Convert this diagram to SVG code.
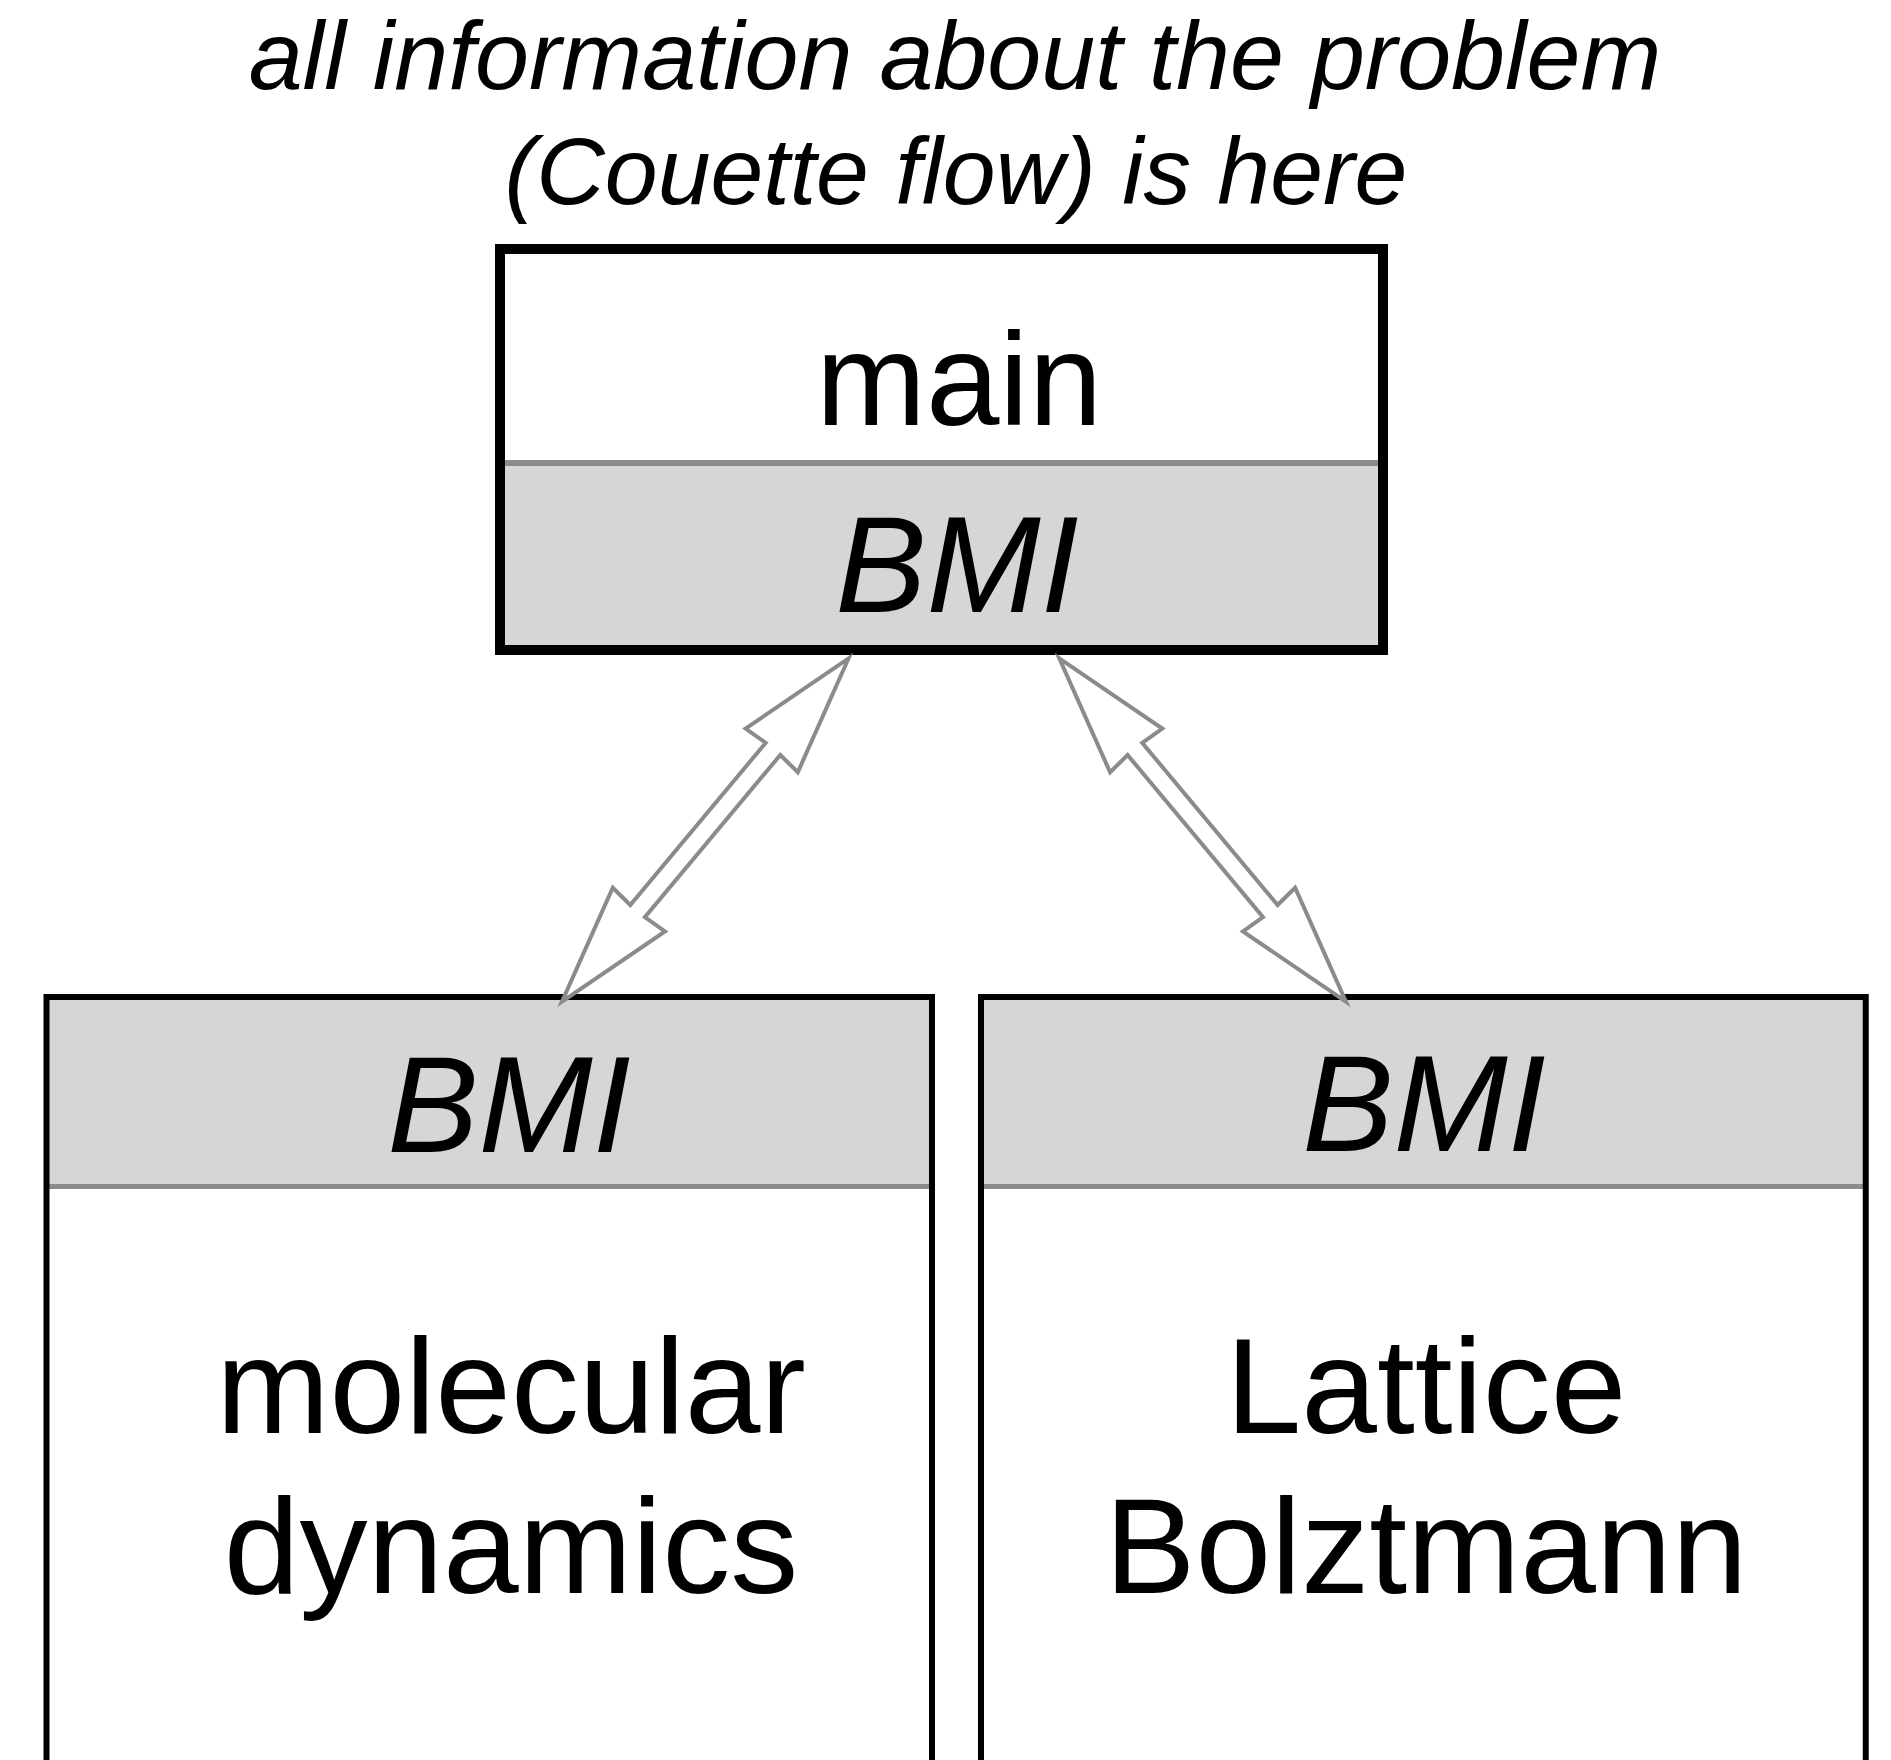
<svg xmlns="http://www.w3.org/2000/svg" xmlns:xlink="http://www.w3.org/1999/xlink" width="1891" height="1760" viewBox="0 0 1891 1760">
  <style>
    text { font-family: "Liberation Sans", Arial, Helvetica, sans-serif; fill: #000; text-anchor: middle; }
    .note { font-size: 95px; font-style: italic; }
    .big { font-size: 136px; }
    .iface { font-size: 137px; font-style: italic; }
    .band { fill: #d6d6d6; stroke: none; }
    .divider { stroke: #8a8b8f; fill: none; }
    .frame { fill: none; stroke: #000; }
    .link { fill: #fff; stroke: #8a8b8f; stroke-width: 4; stroke-linejoin: miter; stroke-miterlimit: 20; }
  </style>
  <defs>
    <!-- hollow double-headed block arrow, tip at origin, pointing along +x -->
    <path id="dblArrow" d="M0,0 L120,-34 L118,-9.5 L329.3,-9.5 L327.3,-34 L447.3,0 L327.3,34 L329.3,9.5 L118,9.5 L120,34 Z"/>
  </defs>

  <rect width="1891" height="1760" fill="#fff"/>

  <g id="note">
    <text class="note" x="955" y="89" style="font-size:97px">all information about the problem</text>
    <text class="note" x="956" y="204">(Couette flow) is here</text>
  </g>

  <g id="main">
    <rect x="500" y="249" width="883" height="401" fill="#fff"/>
    <rect class="band" x="500" y="463" width="883" height="187"/>
    <line class="divider" x1="500" y1="463" x2="1383" y2="463" stroke-width="6"/>
    <rect class="frame" x="500" y="249" width="883" height="401" stroke-width="10"/>
    <text class="big" x="959" y="425" style="font-size:132px">main</text>
    <text class="iface" x="957" y="612">BMI</text>
  </g>

  <g id="molecular-dynamics">
    <rect x="46.5" y="997" width="885.5" height="800" fill="#fff"/>
    <rect class="band" x="46.5" y="997" width="885.5" height="189.5"/>
    <line class="divider" x1="46.5" y1="1186.5" x2="932" y2="1186.5" stroke-width="5"/>
    <rect class="frame" x="46.5" y="997" width="885.5" height="800" stroke-width="6"/>
    <text class="iface" x="509" y="1152">BMI</text>
    <text class="big" x="511" y="1433">molecular</text>
    <text class="big" x="511" y="1593">dynamics</text>
  </g>

  <g id="lattice-boltzmann">
    <rect x="981" y="997" width="884.75" height="800" fill="#fff"/>
    <rect class="band" x="981" y="997" width="884.75" height="189.5"/>
    <line class="divider" x1="981" y1="1186.5" x2="1865.75" y2="1186.5" stroke-width="5"/>
    <rect class="frame" x="981" y="997" width="884.75" height="800" stroke-width="6"/>
    <text class="iface" x="1424" y="1151">BMI</text>
    <text class="big" x="1426" y="1433">Lattice</text>
    <text class="big" x="1426" y="1593">Bolztmann</text>
  </g>

  <g id="connectors">
    <use xlink:href="#dblArrow" class="link" transform="translate(848.6,658.3) rotate(129.85)"/>
    <use xlink:href="#dblArrow" class="link" transform="translate(1059.3,658.3) rotate(50.15)"/>
  </g>
</svg>
